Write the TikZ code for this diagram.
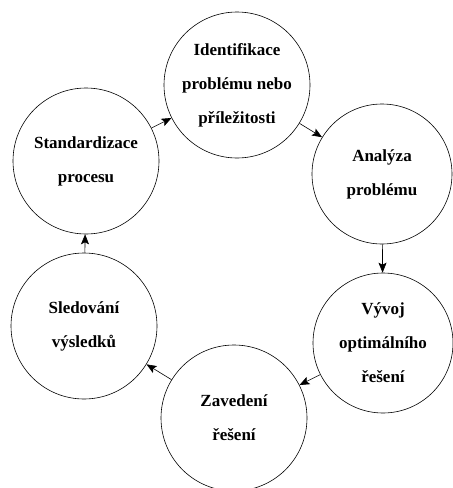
\documentclass[tikz,border=0pt]{standalone}
\usepackage{fontspec}
\setmainfont{Liberation Serif}
\usetikzlibrary{arrows.meta}

\begin{document}
\begin{tikzpicture}[
    x=1pt, y=1pt,
    stage/.style={circle, draw, line width=0.6pt, minimum size=146pt, inner sep=0pt,
        align=center, font=\bfseries\fontsize{17}{34}\selectfont},
    arr/.style={-{Stealth[length=10pt, width=8pt, inset=2pt]}, line width=0.6pt}
]
\useasboundingbox (0,0) rectangle (453,-488);

% ---- nodes ----
\node[stage] (identif) at (237,-85) {Identifikace\\problému nebo\\příležitosti};
\node[stage, minimum size=140pt] (analyza) at (382,-174) {Analýza\\problému};
\node[stage, minimum size=140pt] (vyvoj) at (383,-343) {Vývoj\\optimálního\\řešení};
\node[stage] (zavedeni) at (234,-418) {Zavedení\\řešení};
\node[stage] (sledovani) at (84,-326) {Sledování\\výsledků};
\node[stage] (standard) at (86,-161) {Standardizace\\procesu};

% ---- edges ----
\draw[arr] (standard) -- (identif);
\draw[arr] (identif) -- (analyza);
\draw[arr] (analyza) -- (vyvoj);
\draw[arr] (vyvoj) -- (zavedeni);
\draw[arr] (zavedeni) -- (sledovani);
\draw[arr] (sledovani) -- (standard);

\end{tikzpicture}
\end{document}
